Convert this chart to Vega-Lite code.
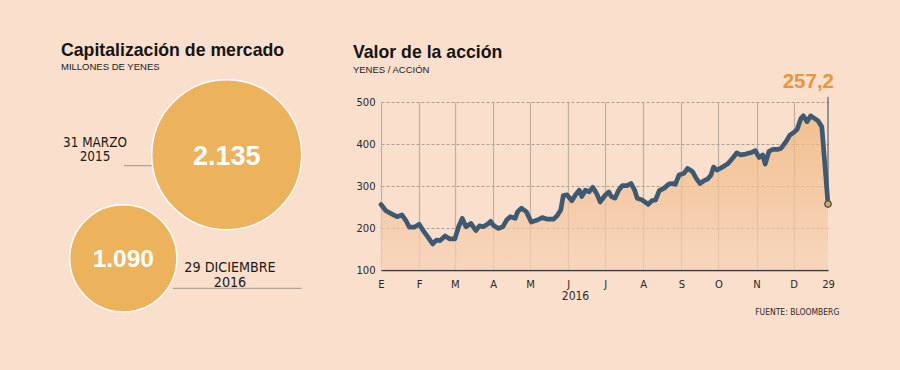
{
  "$schema": "https://vega.github.io/schema/vega-lite/v6.json",
  "background": "#f9dfcc",
  "padding": {"left": 61, "top": 41, "right": 65, "bottom": 60},
  "spacing": 47,
  "config": {"view": {"stroke": null}},
  "title": {
    "text": "FUENTE: BLOOMBERG",
    "orient": "bottom",
    "anchor": "end",
    "font": "DejaVu Sans Condensed",
    "fontSize": 8.5,
    "fontWeight": "normal",
    "color": "#2a2a2a",
    "baseline": "alphabetic",
    "offset": 0,
    "dx": 5
  },
  "datasets": {
    "cap": [
      {"fecha": "31 MARZO 2015", "rotulo": "31 MARZO\n2015", "valor": 2135, "etiqueta": "2.135"},
      {"fecha": "29 DICIEMBRE 2016", "rotulo": "29 DICIEMBRE\n2016", "valor": 1090, "etiqueta": "1.090"}
    ],
    "precio": [
      {"fecha": "2016-01-01", "valor": 256},
      {"fecha": "2016-01-05", "valor": 241},
      {"fecha": "2016-01-10", "valor": 233},
      {"fecha": "2016-01-14", "valor": 227},
      {"fecha": "2016-01-18", "valor": 231},
      {"fecha": "2016-01-21", "valor": 219},
      {"fecha": "2016-01-24", "valor": 202},
      {"fecha": "2016-01-28", "valor": 202},
      {"fecha": "2016-02-01", "valor": 209},
      {"fecha": "2016-02-04", "valor": 195},
      {"fecha": "2016-02-08", "valor": 179},
      {"fecha": "2016-02-12", "valor": 162},
      {"fecha": "2016-02-15", "valor": 171},
      {"fecha": "2016-02-18", "valor": 170},
      {"fecha": "2016-02-22", "valor": 181},
      {"fecha": "2016-02-26", "valor": 174},
      {"fecha": "2016-03-01", "valor": 174},
      {"fecha": "2016-03-04", "valor": 203},
      {"fecha": "2016-03-07", "valor": 223},
      {"fecha": "2016-03-10", "valor": 203},
      {"fecha": "2016-03-14", "valor": 211},
      {"fecha": "2016-03-18", "valor": 194},
      {"fecha": "2016-03-21", "valor": 205},
      {"fecha": "2016-03-24", "valor": 203},
      {"fecha": "2016-03-28", "valor": 210},
      {"fecha": "2016-03-30", "valor": 216},
      {"fecha": "2016-04-01", "valor": 207},
      {"fecha": "2016-04-05", "valor": 199},
      {"fecha": "2016-04-09", "valor": 203},
      {"fecha": "2016-04-12", "valor": 219},
      {"fecha": "2016-04-15", "valor": 227},
      {"fecha": "2016-04-19", "valor": 223},
      {"fecha": "2016-04-21", "valor": 239},
      {"fecha": "2016-04-24", "valor": 247},
      {"fecha": "2016-04-28", "valor": 239},
      {"fecha": "2016-05-02", "valor": 214},
      {"fecha": "2016-05-07", "valor": 219},
      {"fecha": "2016-05-11", "valor": 225},
      {"fecha": "2016-05-15", "valor": 221},
      {"fecha": "2016-05-20", "valor": 221},
      {"fecha": "2016-05-23", "valor": 229},
      {"fecha": "2016-05-26", "valor": 243},
      {"fecha": "2016-05-28", "valor": 277},
      {"fecha": "2016-05-31", "valor": 279},
      {"fecha": "2016-06-04", "valor": 265},
      {"fecha": "2016-06-07", "valor": 279},
      {"fecha": "2016-06-10", "valor": 290},
      {"fecha": "2016-06-12", "valor": 275},
      {"fecha": "2016-06-15", "valor": 290},
      {"fecha": "2016-06-18", "valor": 286},
      {"fecha": "2016-06-21", "valor": 297},
      {"fecha": "2016-06-24", "valor": 283},
      {"fecha": "2016-06-27", "valor": 262},
      {"fecha": "2016-07-01", "valor": 278},
      {"fecha": "2016-07-04", "valor": 286},
      {"fecha": "2016-07-06", "valor": 275},
      {"fecha": "2016-07-09", "valor": 271},
      {"fecha": "2016-07-12", "valor": 290},
      {"fecha": "2016-07-15", "valor": 301},
      {"fecha": "2016-07-19", "valor": 301},
      {"fecha": "2016-07-22", "valor": 306},
      {"fecha": "2016-07-25", "valor": 290},
      {"fecha": "2016-07-27", "valor": 271},
      {"fecha": "2016-07-31", "valor": 267},
      {"fecha": "2016-08-05", "valor": 256},
      {"fecha": "2016-08-08", "valor": 265},
      {"fecha": "2016-08-11", "valor": 267},
      {"fecha": "2016-08-14", "valor": 289},
      {"fecha": "2016-08-18", "valor": 295},
      {"fecha": "2016-08-22", "valor": 305},
      {"fecha": "2016-08-25", "valor": 306},
      {"fecha": "2016-08-27", "valor": 304},
      {"fecha": "2016-08-30", "valor": 326},
      {"fecha": "2016-09-03", "valor": 330},
      {"fecha": "2016-09-06", "valor": 342},
      {"fecha": "2016-09-10", "valor": 334},
      {"fecha": "2016-09-13", "valor": 318},
      {"fecha": "2016-09-16", "valor": 306},
      {"fecha": "2016-09-20", "valor": 314},
      {"fecha": "2016-09-22", "valor": 316},
      {"fecha": "2016-09-25", "valor": 326},
      {"fecha": "2016-09-27", "valor": 345},
      {"fecha": "2016-09-30", "valor": 338},
      {"fecha": "2016-10-05", "valor": 346},
      {"fecha": "2016-10-09", "valor": 354},
      {"fecha": "2016-10-13", "valor": 368},
      {"fecha": "2016-10-16", "valor": 379},
      {"fecha": "2016-10-19", "valor": 374},
      {"fecha": "2016-10-23", "valor": 376},
      {"fecha": "2016-10-27", "valor": 379},
      {"fecha": "2016-10-31", "valor": 384},
      {"fecha": "2016-11-03", "valor": 368},
      {"fecha": "2016-11-06", "valor": 374},
      {"fecha": "2016-11-08", "valor": 352},
      {"fecha": "2016-11-11", "valor": 382},
      {"fecha": "2016-11-14", "valor": 387},
      {"fecha": "2016-11-18", "valor": 387},
      {"fecha": "2016-11-21", "valor": 390},
      {"fecha": "2016-11-25", "valor": 406},
      {"fecha": "2016-11-28", "valor": 421},
      {"fecha": "2016-12-01", "valor": 427},
      {"fecha": "2016-12-04", "valor": 435},
      {"fecha": "2016-12-07", "valor": 461},
      {"fecha": "2016-12-09", "valor": 467},
      {"fecha": "2016-12-12", "valor": 453},
      {"fecha": "2016-12-15", "valor": 467},
      {"fecha": "2016-12-18", "valor": 461},
      {"fecha": "2016-12-21", "valor": 455},
      {"fecha": "2016-12-24", "valor": 441},
      {"fecha": "2016-12-29", "valor": 257.2, "etiqueta": "257,2"}
    ]
  },
  "hconcat": [
    {
      "width": 241,
      "height": 200,
      "title": {
        "text": "Capitalización de mercado",
        "subtitle": "MILLONES DE YENES",
        "anchor": "start",
        "frame": "group",
        "font": "Liberation Sans",
        "fontSize": 17.7,
        "fontWeight": "bold",
        "color": "#141414",
        "subtitleFont": "Liberation Sans",
        "subtitleFontSize": 9.5,
        "subtitleColor": "#222222",
        "subtitlePadding": 3,
        "offset": 5
      },
      "data": {"name": "cap"},
      "encoding": {
        "x": {"field": "fecha", "type": "nominal", "axis": null,
              "scale": {"type": "point", "domain": ["29 DICIEMBRE 2016", "31 MARZO 2015"], "range": [62.3, 165.7], "padding": 0}},
        "y": {"field": "fecha", "type": "nominal", "axis": null,
              "scale": {"type": "point", "domain": ["31 MARZO 2015", "29 DICIEMBRE 2016"], "range": [52.7, 156.3], "padding": 0}}
      },
      "resolve": {"scale": {"size": "independent"}},
      "layer": [
        {
          "transform": [{"filter": {"field": "valor", "equal": 2135}}],
          "mark": {"type": "rule", "color": "#9d958e", "strokeWidth": 1, "xOffset": -102.7, "x2Offset": -13.7, "yOffset": 11},
          "encoding": {"x2": {"field": "fecha"}}
        },
        {
          "transform": [{"filter": {"field": "valor", "equal": 1090}}],
          "mark": {"type": "rule", "color": "#9d958e", "strokeWidth": 1, "xOffset": 49.7, "x2Offset": 178.4, "yOffset": 30},
          "encoding": {"x2": {"field": "fecha"}}
        },
        {
          "mark": {"type": "point", "shape": "circle", "filled": true, "fill": "#ecb25c", "stroke": "#ffffff", "strokeWidth": 1.5, "opacity": 1},
          "encoding": {
            "size": {"field": "valor", "type": "quantitative", "legend": null,
                     "scale": {"type": "linear", "domain": [0, 2135], "range": [0, 22500]}}
          }
        },
        {
          "mark": {"type": "text", "font": "Liberation Sans", "fontWeight": "bold", "color": "#ffffff", "align": "center", "baseline": "middle", "dy": 2},
          "encoding": {
            "text": {"field": "etiqueta"},
            "size": {"field": "valor", "type": "quantitative", "legend": null,
                     "scale": {"type": "linear", "domain": [1090, 2135], "range": [24.5, 27]}}
          }
        },
        {
          "transform": [{"filter": {"field": "valor", "equal": 2135}}],
          "mark": {"type": "text", "font": "DejaVu Sans Condensed", "fontSize": 13.4, "color": "#1a1a1a", "align": "center", "baseline": "alphabetic", "lineBreak": "\n", "lineHeight": 14.5, "dx": -131.7, "dy": -8},
          "encoding": {"text": {"field": "rotulo"}}
        },
        {
          "transform": [{"filter": {"field": "valor", "equal": 1090}}],
          "mark": {"type": "text", "font": "DejaVu Sans Condensed", "fontSize": 14.2, "color": "#1a1a1a", "align": "center", "baseline": "alphabetic", "lineBreak": "\n", "lineHeight": 15, "dx": 106.7, "dy": 13.4},
          "encoding": {"text": {"field": "rotulo"}}
        }
      ]
    },
    {
      "width": 447,
      "height": 168,
      "title": {
        "text": "Valor de la acción",
        "subtitle": "YENES / ACCIÓN",
        "anchor": "start",
        "dx": -3,
        "font": "Liberation Sans",
        "fontSize": 17.7,
        "fontWeight": "bold",
        "color": "#141414",
        "subtitleFont": "Liberation Sans",
        "subtitleFontSize": 9.5,
        "subtitleColor": "#222222",
        "subtitlePadding": 3,
        "offset": -2
      },
      "data": {"name": "precio"},
      "encoding": {
        "x": {
          "field": "fecha", "type": "temporal",
          "scale": {"type": "utc", "domain": [{"year": 2016, "month": 1, "date": 1, "utc": true}, {"year": 2016, "month": 12, "date": 29, "utc": true}]},
          "axis": {
            "values": [
              {"year": 2016, "month": 1, "date": 1, "utc": true},
              {"year": 2016, "month": 2, "date": 1, "utc": true},
              {"year": 2016, "month": 3, "date": 1, "utc": true},
              {"year": 2016, "month": 4, "date": 1, "utc": true},
              {"year": 2016, "month": 5, "date": 1, "utc": true},
              {"year": 2016, "month": 6, "date": 1, "utc": true},
              {"year": 2016, "month": 7, "date": 1, "utc": true},
              {"year": 2016, "month": 8, "date": 1, "utc": true},
              {"year": 2016, "month": 9, "date": 1, "utc": true},
              {"year": 2016, "month": 10, "date": 1, "utc": true},
              {"year": 2016, "month": 11, "date": 1, "utc": true},
              {"year": 2016, "month": 12, "date": 1, "utc": true},
              {"year": 2016, "month": 12, "date": 29, "utc": true}
            ],
            "labelExpr": "utcdate(datum.value) == 29 ? '29' : ['E','F','M','A','M','J','J','A','S','O','N','D'][utcmonth(datum.value)]",
            "labelFlush": false,
            "labelOverlap": false,
            "labelFont": "DejaVu Sans",
            "labelFontSize": 10,
            "labelColor": "#2a2a2a",
            "labelPadding": 9,
            "ticks": false,
            "domain": true,
            "domainColor": "#3a3a3a",
            "domainWidth": 1.5,
            "grid": true,
            "gridColor": "#c2b1a2",
            "gridWidth": 1.2,
            "gridOpacity": {"condition": {"test": "utcdate(datum.value) == 29", "value": 0}, "value": 1},
            "title": "2016",
            "titleFont": "DejaVu Sans Condensed",
            "titleFontSize": 12,
            "titleFontWeight": "normal",
            "titleColor": "#2a2a2a",
            "titleX": 194,
            "titleY": 29.3,
            "titleAlign": "center",
            "titleBaseline": "alphabetic"
          }
        },
        "y": {
          "field": "valor", "type": "quantitative",
          "scale": {"domain": [100, 500], "zero": false, "nice": false},
          "axis": {
            "values": [100, 200, 300, 400, 500],
            "title": null,
            "domain": false,
            "ticks": false,
            "grid": true,
            "gridDash": [3, 2],
            "gridColor": "#a8a09a",
            "gridOpacity": {"condition": {"test": "datum.value == 100", "value": 0}, "value": 1},
            "labelFont": "DejaVu Sans",
            "labelFontSize": 10,
            "labelColor": "#2a2a2a",
            "labelPadding": 6
          }
        }
      },
      "layer": [
        {
          "mark": {"type": "area", "opacity": 0.7,
                   "color": {"gradient": "linear", "x1": 0, "y1": 0, "x2": 0, "y2": 1,
                             "stops": [{"offset": 0, "color": "#f0b375"}, {"offset": 1, "color": "#f6d2b8"}]}},
          "encoding": {"y2": {"datum": 100}}
        },
        {
          "transform": [{"filter": {"field": "valor", "equal": 257.2}}],
          "mark": {"type": "rule", "color": "#3a4651", "strokeWidth": 1},
          "encoding": {"y2": {"datum": 512}}
        },
        {
          "mark": {"type": "line", "color": "#3e5a73", "strokeWidth": 4.7, "strokeJoin": "round", "strokeCap": "round"},
          "encoding": {}
        },
        {
          "transform": [{"filter": {"field": "valor", "equal": 257.2}}],
          "mark": {"type": "point", "shape": "circle", "filled": true, "fill": "#f2a83a", "stroke": "#3e5a73", "strokeWidth": 1.5, "size": 40, "opacity": 1},
          "encoding": {}
        },
        {
          "transform": [{"filter": {"field": "valor", "equal": 257.2}}],
          "mark": {"type": "text", "font": "Liberation Sans", "fontWeight": "bold", "fontSize": 20.5, "color": "#e9953b", "align": "right", "baseline": "alphabetic", "dx": 6},
          "encoding": {"y": {"datum": 533}, "text": {"field": "etiqueta"}}
        }
      ]
    }
  ]
}
